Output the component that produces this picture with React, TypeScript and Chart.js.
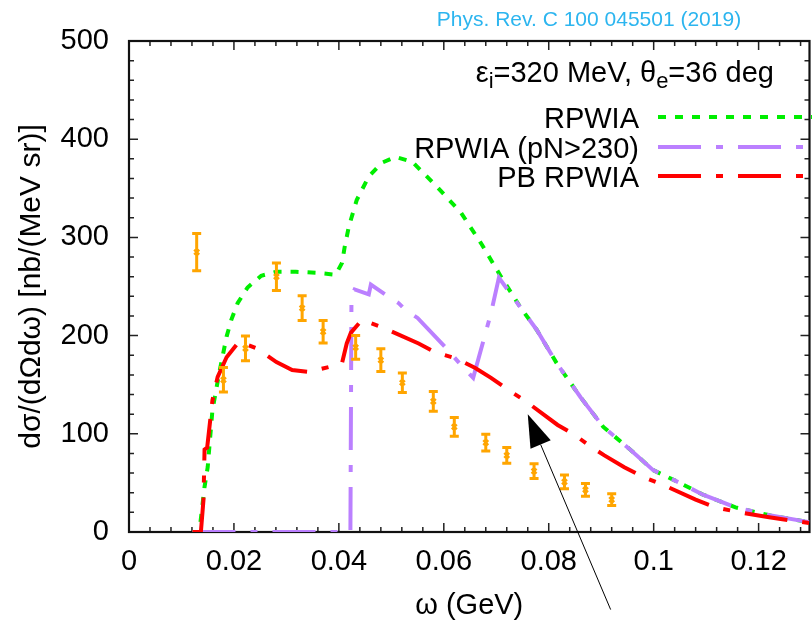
import React, { useEffect, useRef } from "react";
import { Chart, registerables } from "chart.js";

Chart.register(...registerables);

// ---------- data ----------
const dataOmega = [0.0129, 0.018, 0.0222, 0.0281, 0.033, 0.037, 0.0432, 0.048, 0.0521, 0.058, 0.062, 0.068, 0.072, 0.0772, 0.083, 0.087, 0.092];
const dataSigma = [285, 155, 187, 260, 228, 204, 188, 175, 152, 133, 107, 91, 78, 62, 51, 43, 33];
const dataErr = [19, 12.5, 12.5, 14, 12.5, 11.5, 12, 11.5, 10, 10, 9.5, 8.5, 8, 7.5, 7, 6.5, 6];

const rpwiaOmega = [0.0121, 0.0134, 0.0144, 0.015, 0.0159, 0.0172, 0.0186, 0.0195, 0.0207, 0.0226, 0.0252, 0.0281, 0.0318, 0.0356, 0.0394, 0.0406, 0.0411, 0.0419, 0.0434, 0.0457, 0.0482, 0.0508, 0.054, 0.0588, 0.0633, 0.0671, 0.0709, 0.0747, 0.0777, 0.0815, 0.0861, 0.0904, 0.0955, 0.0999, 0.105, 0.1094, 0.1156, 0.1221, 0.1297];
const rpwiaSigma = [0, 0, 46, 66, 124, 162, 199, 216, 233, 249, 261, 265, 265, 264, 262, 274, 290, 311, 338, 362, 376, 382, 377, 351, 325, 294, 260, 228, 206, 172, 137, 107, 84, 63, 50, 38, 25, 17, 10];

const pnOmega = [0.0121, 0.0422, 0.0424, 0.043, 0.0457, 0.0461, 0.0491, 0.0514, 0.0527, 0.055, 0.0605, 0.0633, 0.0656, 0.069, 0.0705, 0.0747, 0.0777, 0.0815, 0.0861, 0.0904, 0.0955, 0.0999, 0.105, 0.1094, 0.1156, 0.1221, 0.1297];
const pnSigma = [0, 0, 240, 247, 242, 252, 241, 233, 226, 218, 187, 170, 157, 223, 259, 228, 206, 172, 137, 107, 84, 63, 50, 38, 25, 17, 10];

const pbOmega = [0.0121, 0.0137, 0.0142, 0.0144, 0.0149, 0.0159, 0.0169, 0.0186, 0.021, 0.0243, 0.0281, 0.0311, 0.0343, 0.0381, 0.0406, 0.0415, 0.0423, 0.0444, 0.048, 0.0552, 0.0584, 0.0622, 0.066, 0.069, 0.0722, 0.0754, 0.0817, 0.0849, 0.088, 0.0906, 0.0944, 0.098, 0.1018, 0.108, 0.1118, 0.1164, 0.122, 0.1297];
const pbSigma = [0, 0, 33, 84, 86, 134, 158, 178, 194, 187, 173, 165, 163, 168, 172, 192, 203, 216, 209, 192, 183, 177, 167, 157, 145, 134, 109, 99, 87, 78, 66, 56, 48, 33, 25, 20, 15, 9];

const xTickStep = 0.02;
const xMinorStep = 0.004;
const yTickStep = 100;
const yMinorStep = 20;
const X_MIN = 0;
const X_MAX = 0.1297;
const Y_MIN = 0;
const Y_MAX = 500;

const legendLabels = ["RPWIA", "RPWIA (pN>230)", "PB RPWIA"];
const citation = "Phys. Rev. C 100 045501 (2019)";
const xTitle = "ω (GeV)";
const yTitle = "dσ/(dΩdω) [nb/(MeV sr)]";
// arrow annotation (data coordinates): tail -> tip
const arrowTail = [0.0918, -79];
const arrowTip = [0.076, 120];

// ---------- styles ----------
const FONT = "'Liberation Sans', Arial, sans-serif";
const GREEN = "#00ee00";
const PURPLE = "#bb80ff";
const RED = "#ff0000";
const ORANGE = "#ffa500";
const CITE = "#2cb5ef";

const zip = (xs: number[], ys: number[]) => xs.map((x, i) => ({ x, y: ys[i] }));

const framePlugin = {
  id: "frame",
  beforeDatasetsDraw(chart: any) {
    const { ctx, chartArea: a, scales } = chart;
    const xs = scales.x;
    const ys = scales.y;
    ctx.save();
    ctx.strokeStyle = "#222";
    ctx.lineWidth = 1.5;
    const nx = Math.round((X_MAX - X_MIN) / xMinorStep + 1e-6);
    for (let i = 0; i <= nx; i++) {
      const v = X_MIN + i * xMinorStep;
      const major = i % Math.round(xTickStep / xMinorStep) === 0;
      const len = major ? 9 : 5;
      const px = xs.getPixelForValue(v);
      ctx.beginPath();
      ctx.moveTo(px, a.bottom);
      ctx.lineTo(px, a.bottom - len);
      ctx.moveTo(px, a.top);
      ctx.lineTo(px, a.top + len);
      ctx.stroke();
    }
    const ny = Math.round((Y_MAX - Y_MIN) / yMinorStep);
    for (let i = 0; i <= ny; i++) {
      const v = Y_MIN + i * yMinorStep;
      const major = i % Math.round(yTickStep / yMinorStep) === 0;
      const len = major ? 9 : 5;
      const py = ys.getPixelForValue(v);
      ctx.beginPath();
      ctx.moveTo(a.left, py);
      ctx.lineTo(a.left + len, py);
      ctx.moveTo(a.right, py);
      ctx.lineTo(a.right - len, py);
      ctx.stroke();
    }
    ctx.lineWidth = 2.2;
    ctx.strokeStyle = "#111";
    ctx.strokeRect(a.left, a.top, a.right - a.left, a.bottom - a.top);
    ctx.restore();
  },
};

const errorBarPlugin = {
  id: "errbars",
  afterDatasetsDraw(chart: any) {
    const { ctx, scales } = chart;
    ctx.save();
    ctx.strokeStyle = ORANGE;
    ctx.lineWidth = 3;
    dataOmega.forEach((w, i) => {
      const px = scales.x.getPixelForValue(w);
      const lo = scales.y.getPixelForValue(dataSigma[i] - dataErr[i]);
      const hi = scales.y.getPixelForValue(dataSigma[i] + dataErr[i]);
      ctx.beginPath();
      ctx.moveTo(px, lo);
      ctx.lineTo(px, hi);
      ctx.moveTo(px - 4.5, lo);
      ctx.lineTo(px + 4.5, lo);
      ctx.moveTo(px - 4.5, hi);
      ctx.lineTo(px + 4.5, hi);
      ctx.stroke();
    });
    ctx.restore();
  },
};

const annotationPlugin = {
  id: "annot",
  afterDraw(chart: any) {
    const { ctx, scales } = chart;
    ctx.save();
    // citation
    ctx.font = `21px ${FONT}`;
    ctx.fillStyle = CITE;
    ctx.textAlign = "center";
    ctx.textBaseline = "alphabetic";
    ctx.fillText(citation, 589, 26);

    // kinematics label with subscripts (right aligned)
    const big = `29px ${FONT}`;
    const small = `22px ${FONT}`;
    const parts: [string, boolean][] = [
      ["ε", false],
      ["i", true],
      ["=320 MeV, θ", false],
      ["e", true],
      ["=36 deg", false],
    ];
    let total = 0;
    parts.forEach(([t, s]) => {
      ctx.font = s ? small : big;
      total += ctx.measureText(t).width;
    });
    let x = 774 - total;
    ctx.fillStyle = "#000";
    ctx.textAlign = "left";
    parts.forEach(([t, s]) => {
      ctx.font = s ? small : big;
      ctx.fillText(t, x, s ? 88 : 82);
      x += ctx.measureText(t).width;
    });

    // legend
    const legendDs = [3, 2, 1];
    const textY = [128, 158, 187];
    const lineY = [117, 147, 176];
    ctx.font = big;
    ctx.textAlign = "right";
    legendDs.forEach((di, k) => {
      const ds = chart.data.datasets[di];
      ctx.fillStyle = "#000";
      ctx.fillText(legendLabels[k], 639, textY[k]);
      ctx.save();
      ctx.strokeStyle = ds.borderColor;
      ctx.lineWidth = ds.borderWidth;
      ctx.setLineDash(ds.borderDash || []);
      ctx.beginPath();
      ctx.moveTo(658, lineY[k]);
      ctx.lineTo(840, lineY[k]);
      ctx.stroke();
      ctx.restore();
    });

    // arrow
    const tx = scales.x.getPixelForValue(arrowTail[0]);
    const ty = scales.y.getPixelForValue(arrowTail[1]);
    const hx = scales.x.getPixelForValue(arrowTip[0]);
    const hy = scales.y.getPixelForValue(arrowTip[1]);
    const dx = hx - tx;
    const dy = hy - ty;
    const L = Math.hypot(dx, dy);
    const ux = dx / L;
    const uy = dy / L;
    const headLen = 33;
    const headW = 11;
    const bx = hx - ux * headLen;
    const by = hy - uy * headLen;
    ctx.strokeStyle = "#000";
    ctx.lineWidth = 1;
    ctx.beginPath();
    ctx.moveTo(tx, ty);
    ctx.lineTo(bx, by);
    ctx.stroke();
    ctx.fillStyle = "#000";
    ctx.beginPath();
    ctx.moveTo(hx, hy);
    ctx.lineTo(bx - uy * headW, by + ux * headW);
    ctx.lineTo(bx + uy * headW, by - ux * headW);
    ctx.closePath();
    ctx.fill();
    ctx.restore();
  },
};

export default function App() {
  const ref = useRef<HTMLCanvasElement | null>(null);
  useEffect(() => {
    if (!ref.current) return;
    const tickFont = { family: FONT, size: 29 };
    const chart = new Chart(ref.current, {
      type: "scatter",
      data: {
        datasets: [
          {
            label: "data",
            data: zip(dataOmega, dataSigma),
            showLine: false,
            pointStyle: "crossRot",
            pointRadius: 3.5,
            borderColor: ORANGE,
            backgroundColor: ORANGE,
            borderWidth: 2.5,
          },
          {
            label: legendLabels[2],
            data: zip(pbOmega, pbSigma),
            showLine: true,
            borderColor: RED,
            borderWidth: 4,
            borderDash: [43, 15, 7, 15],
            pointRadius: 0,
            tension: 0,
          },
          {
            label: legendLabels[1],
            data: zip(pnOmega, pnSigma),
            showLine: true,
            borderColor: PURPLE,
            borderWidth: 4,
            borderDash: [43, 15, 7, 15],
            pointRadius: 0,
            tension: 0,
          },
          {
            label: legendLabels[0],
            data: zip(rpwiaOmega, rpwiaSigma),
            showLine: true,
            borderColor: GREEN,
            borderWidth: 4,
            borderDash: [8, 9],
            pointRadius: 0,
            tension: 0,
          },
        ],
      } as any,
      options: {
        responsive: false,
        animation: false,
        maintainAspectRatio: false,
        layout: { padding: { top: 41, right: 3, left: 0, bottom: 0 } },
        plugins: { legend: { display: false }, tooltip: { enabled: false } },
        scales: {
          x: {
            type: "linear",
            min: X_MIN,
            max: X_MAX,
            afterFit: (s: any) => {
              s.height = 88;
            },
            grid: { display: false, drawTicks: false },
            border: { display: false },
            ticks: {
              stepSize: xTickStep,
              includeBounds: false,
              padding: 13,
              font: tickFont,
              color: "#000",
              maxRotation: 0,
              autoSkip: false,
              callback: (v: any) => String(Number(Number(v).toFixed(3))),
            },
            title: {
              display: true,
              text: xTitle,
              font: tickFont,
              color: "#000",
              padding: { top: 0, bottom: -3 },
            },
          },
          y: {
            type: "linear",
            min: Y_MIN,
            max: Y_MAX,
            afterFit: (s: any) => {
              s.width = 129;
            },
            grid: { display: false, drawTicks: false },
            border: { display: false },
            ticks: {
              stepSize: yTickStep,
              includeBounds: false,
              padding: 20,
              font: tickFont,
              color: "#000",
              autoSkip: false,
            },
            title: {
              display: true,
              text: yTitle,
              font: { family: FONT, size: 30 },
              color: "#000",
              padding: { top: 14, bottom: 0 },
            },
          },
        },
      } as any,
      plugins: [framePlugin, errorBarPlugin, annotationPlugin],
    });
    return () => chart.destroy();
  }, []);
  return (
    <div style={{ position: "fixed", left: 0, top: 0, width: 812, height: 620, overflow: "hidden", background: "#fff" }}>
      <canvas ref={ref} width={816} height={620} style={{ display: "block" }} />
    </div>
  );
}
